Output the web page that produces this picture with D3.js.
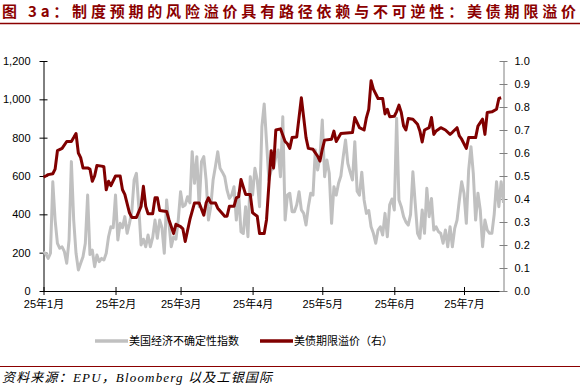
<!DOCTYPE html>
<html>
<script src="https://d3js.org/d3.v7.min.js"></script>

<head>
    <style>
        body {
            margin: 0;
            background: #fff;
        }

        svg {
            display: block;
        }
    </style>
</head>

<body>
</body>
<script>
    const width = 580,
        height = 388;
    const plot = { left: 43.5, right: 503.5, top: 61, bottom: 291 };

    // daily US economic policy uncertainty index, one value per day from epuStart
    const epuStart = "2025-01-01";
    const epuValues = [
        205, 193, 170, 197, 570, 370, 249, 223, 230, 205, 145, 266, 675, 370, 197, 110, 145, 179, 249, 501,
        190, 214, 127, 188, 153, 170, 162, 197, 283, 335, 330, 501, 266, 353, 330, 388, 301, 353, 414, 579,
        614, 440, 240, 270, 231, 292, 231, 280, 370, 275, 370, 330, 197, 475, 350, 231, 283, 270, 370, 518,
        440, 449, 492, 460, 727, 562, 701, 440, 675, 701, 579, 370, 440, 579, 650, 727, 640, 620, 596, 527,
        483, 500, 544, 370, 510, 309, 300, 440, 283, 596, 501, 640, 579, 440, 857, 976, 779, 579, 630, 640,
        700, 736, 596, 909, 370, 501, 510, 414, 414, 450, 518, 423, 405, 344, 440, 510, 500, 736, 631, 701,
        892, 596, 683, 614, 353, 544, 500, 562, 600, 700, 788, 666, 620, 579, 779, 520, 500, 620, 475, 405,
        420, 335, 301, 249, 318, 335, 292, 405, 283, 450, 480, 423, 901, 475, 440, 388, 360, 344, 400, 622,
        457, 301, 275, 423, 301, 536, 388, 483, 318, 335, 310, 300, 249, 318, 231, 335, 231, 327, 370, 475,
        570, 510, 353, 631, 753, 614, 370, 510, 423, 231, 370, 318, 301, 301, 400, 570, 440, 570, 460
    ];

    // US Treasury term premium, right axis
    const tpDates = [
        "01-01", "01-02", "01-03", "01-05", "01-06", "01-07", "01-09", "01-11", "01-13", "01-14",
        "01-15", "01-16", "01-17", "01-18", "01-20", "01-21", "01-22", "01-23", "01-24", "01-26",
        "01-27", "01-28", "01-29", "01-30", "02-01", "02-03", "02-04", "02-05", "02-07", "02-08",
        "02-10", "02-12", "02-13", "02-14", "02-15", "02-17", "02-18", "02-19", "02-20", "02-23",
        "02-24", "02-26", "02-27", "03-01", "03-02", "03-03", "03-05", "03-07", "03-09", "03-11",
        "03-12", "03-13", "03-14", "03-16", "03-17", "03-20", "03-21", "03-22", "03-24", "03-25",
        "03-26", "03-27", "03-29", "03-31", "04-01", "04-03", "04-04", "04-06", "04-07", "04-08",
        "04-09", "04-10", "04-11", "04-13", "04-15", "04-16", "04-17", "04-18", "04-20", "04-22",
        "04-23", "04-24", "04-25", "04-27", "04-29", "04-30", "05-01", "05-02", "05-05", "05-06",
        "05-07", "05-09", "05-14", "05-15", "05-17", "05-19", "05-20", "05-21", "05-22", "05-23",
        "05-25", "05-27", "05-28", "05-29", "05-30", "06-01", "06-02", "06-03", "06-04", "06-05",
        "06-06", "06-07", "06-09", "06-11", "06-12", "06-13", "06-14", "06-16", "06-17", "06-18",
        "06-19", "06-21", "06-23", "06-25", "06-26", "06-28", "06-29", "06-30", "07-02", "07-03",
        "07-05", "07-06", "07-07", "07-09", "07-10", "07-11", "07-13", "07-15", "07-16", "07-17"
    ];
    const tpValues = [
        0.495, 0.50, 0.506, 0.51, 0.53, 0.61, 0.62, 0.65, 0.65, 0.667,
        0.685, 0.60, 0.58, 0.535, 0.535, 0.53, 0.477, 0.50, 0.546, 0.543,
        0.54, 0.44, 0.477, 0.458, 0.50, 0.50, 0.44, 0.42, 0.34, 0.32,
        0.32, 0.368, 0.455, 0.368, 0.336, 0.336, 0.405, 0.405, 0.35, 0.346,
        0.31, 0.25, 0.29, 0.28, 0.27, 0.215, 0.31, 0.383, 0.383, 0.33,
        0.383, 0.405, 0.383, 0.383, 0.36, 0.325, 0.325, 0.368, 0.368, 0.405,
        0.41, 0.485, 0.42, 0.42, 0.34, 0.325, 0.25, 0.25, 0.31, 0.46,
        0.61, 0.535, 0.70, 0.705, 0.65, 0.64, 0.62, 0.667, 0.67, 0.84,
        0.754, 0.667, 0.62, 0.616, 0.586, 0.565, 0.616, 0.656, 0.66, 0.695,
        0.65, 0.685, 0.689, 0.754, 0.71, 0.70, 0.754, 0.79, 0.914, 0.878,
        0.837, 0.837, 0.77, 0.79, 0.758, 0.76, 0.78, 0.808, 0.776, 0.717,
        0.70, 0.75, 0.747, 0.725, 0.696, 0.648, 0.70, 0.71, 0.754, 0.681,
        0.696, 0.71, 0.70, 0.681, 0.69, 0.71, 0.674, 0.66, 0.62, 0.667,
        0.667, 0.667, 0.717, 0.747, 0.681, 0.776, 0.779, 0.79, 0.837, 0.84
    ];

    const xDomain = ["2025-01-01", "2025-07-18"];
    const monthTicks = ["2025-01-01", "2025-02-01", "2025-03-01", "2025-04-01", "2025-05-01", "2025-06-01", "2025-07-01"];
    const monthLabels = ["25年1月", "25年2月", "25年3月", "25年4月", "25年5月", "25年6月", "25年7月"];
    const leftTicks = [0, 200, 400, 600, 800, 1000, 1200];
    const rightTicks = [0, 0.1, 0.2, 0.3, 0.4, 0.5, 0.6, 0.7, 0.8, 0.9, 1.0];
    const seriesNames = ["美国经济不确定性指数", "美债期限溢价（右）"];
    const seriesColors = ["#c0c0c0", "#800000"];

    const titleText = "图 3a：制度预期的风险溢价具有路径依赖与不可逆性：美债期限溢价";
    const sourceText = "资料来源：EPU，Bloomberg 以及工银国际";

    const parse = d3.timeParse("%Y-%m-%d");
    const epu = epuValues.map((v, i) => ({ date: d3.timeDay.offset(parse(epuStart), i), value: v }));
    const tp = tpDates.map((d, i) => ({ date: parse("2025-" + d), value: tpValues[i] }));

    const svg = d3.select("body").append("svg").attr("width", width).attr("height", height);
    const font = "'Liberation Sans', 'Noto Sans CJK SC', sans-serif";

    // title + rules
    svg.append("text")
        .attr("x", 2)
        .attr("y", 17)
        .attr("font-family", "'Noto Sans CJK SC', sans-serif")
        .attr("font-weight", "bold")
        .attr("font-size", 15)
        .attr("fill", "#8b0000")
        .attr("textLength", 574)
        .attr("lengthAdjust", "spacing")
        .text(titleText);
    svg.append("line")
        .attr("x1", 0).attr("x2", width)
        .attr("y1", 23.5).attr("y2", 23.5)
        .attr("stroke", "#8b0000")
        .attr("stroke-width", 1.5);
    svg.append("line")
        .attr("x1", 0).attr("x2", width)
        .attr("y1", 366.5).attr("y2", 366.5)
        .attr("stroke", "#8b0000")
        .attr("stroke-width", 1);
    svg.append("text")
        .attr("x", 2)
        .attr("y", 382)
        .attr("font-family", "'Liberation Serif', 'Noto Sans CJK SC', serif")
        .attr("font-style", "italic")
        .attr("font-size", 13)
        .attr("fill", "#000")
        .attr("textLength", 270)
        .attr("lengthAdjust", "spacing")
        .text(sourceText);

    // scales
    const x = d3.scaleTime().domain(xDomain.map(parse)).range([plot.left, plot.right]);
    const yL = d3.scaleLinear().domain([0, 1200]).range([plot.bottom, plot.top]);
    const yR = d3.scaleLinear().domain([0, 1]).range([plot.bottom, plot.top]);

    // axes
    const gx = svg.append("g")
        .attr("transform", `translate(0,${plot.bottom})`)
        .call(d3.axisBottom(x)
            .tickValues(monthTicks.map(parse))
            .tickFormat((d, i) => monthLabels[i])
            .tickSizeOuter(0));
    gx.selectAll(".tick line").attr("y1", -4).attr("y2", 4).attr("stroke", "#000");
    gx.selectAll(".tick text").attr("y", 9).attr("font-size", 11).attr("font-family", font).attr("fill", "#000");
    gx.select(".domain").attr("stroke", "#000");

    const gl = svg.append("g")
        .attr("transform", `translate(${plot.left},0)`)
        .call(d3.axisLeft(yL).tickValues(leftTicks).tickFormat(d3.format(",")).tickSizeOuter(0));
    gl.selectAll(".tick line").attr("x1", -4).attr("x2", 4).attr("stroke", "#000");
    gl.selectAll(".tick text").attr("x", -13).attr("font-size", 11).attr("font-family", font).attr("fill", "#000");
    gl.select(".domain").attr("stroke", "#000");

    const gr = svg.append("g")
        .attr("transform", `translate(${plot.right},0)`)
        .call(d3.axisRight(yR).tickValues(rightTicks).tickFormat(d3.format(".1f")).tickSizeOuter(0));
    gr.selectAll(".tick line").attr("x1", -4).attr("x2", 4).attr("stroke", "#808080");
    gr.selectAll(".tick text").attr("x", 11).attr("font-size", 11).attr("font-family", font).attr("fill", "#000");
    gr.select(".domain").attr("stroke", "#808080");

    // series
    const lineL = d3.line().x(d => x(d.date)).y(d => yL(d.value));
    const lineR = d3.line().x(d => x(d.date)).y(d => yR(d.value));

    svg.append("path")
        .datum(epu)
        .attr("fill", "none")
        .attr("stroke", seriesColors[0])
        .attr("stroke-width", 3)
        .attr("stroke-linejoin", "round")
        .attr("d", lineL);
    svg.append("path")
        .datum(tp)
        .attr("fill", "none")
        .attr("stroke", seriesColors[1])
        .attr("stroke-width", 3)
        .attr("stroke-linejoin", "round")
        .attr("d", lineR);

    // legend
    const legend = svg.append("g").attr("font-family", font).attr("font-size", 11);
    const legendX = [95, 260];
    seriesNames.forEach((name, i) => {
        legend.append("line")
            .attr("x1", legendX[i]).attr("x2", legendX[i] + 33)
            .attr("y1", 341).attr("y2", 341)
            .attr("stroke", seriesColors[i])
            .attr("stroke-width", 3.5);
        legend.append("text")
            .attr("x", legendX[i] + 34)
            .attr("y", 345)
            .attr("fill", "#000")
            .text(name);
    });
</script>

</html>
